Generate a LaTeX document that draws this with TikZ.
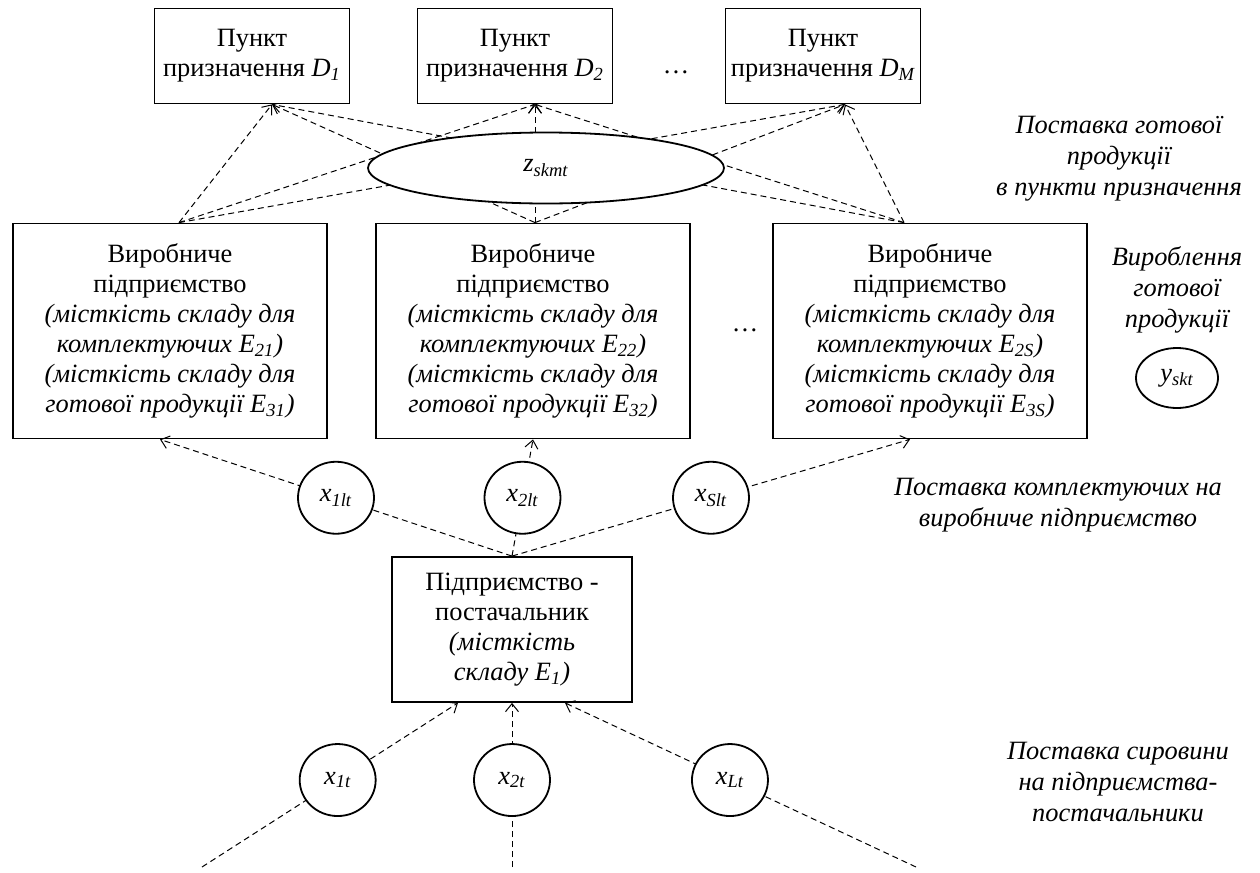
\documentclass[tikz,border=0pt]{standalone}
\usepackage{fontspec}
\setmainfont{Liberation Serif}
\usetikzlibrary{shapes.geometric,backgrounds,arrows.meta}
\newcommand{\ix}[1]{\textsubscript{\itshape #1}}

\begin{document}
\begin{tikzpicture}[x=0.5pt, y=-0.5pt, font=\fontsize{13.2}{15}\selectfont,
  box/.style={draw, solid, line width=0.9pt, fill=white, align=center, inner sep=0pt},
  oval/.style={draw, solid, ellipse, line width=0.9pt, fill=white, inner sep=0pt},
  var/.style={oval, minimum width=38pt, minimum height=36pt},
  note/.style={align=center, font=\fontsize{13.2}{15.5}\selectfont\itshape},
  flow/.style={line width=0.5pt, dash pattern=on 3pt off 2pt, -{Straight Barb[length=4pt,width=6.5pt]}}]
  \useasboundingbox (0,0) rectangle (1260,873);
  \node[box, minimum width=97.5pt, minimum height=47.5pt] (d1) at (252,56) {Пункт\\призначення \textit{D}\ix{1}};
  \node[box, minimum width=97.5pt, minimum height=47.5pt] (d2) at (515,56) {Пункт\\призначення \textit{D}\ix{2}};
  \node[box, minimum width=97.5pt, minimum height=47.5pt] (dm) at (823,56) {Пункт\\призначення \textit{D}\ix{M}};
  \node (dtop) at (676,72) {\dots};
  \node[oval, minimum width=178pt, minimum height=35.5pt] (z) at (546,168) {\textit{z}\ix{skmt}};
  \node[note] (lbd) at (1119,159) {Поставка готової\\продукції\\в пункти призначення};
  \node[box, minimum width=157pt, minimum height=107.5pt] (b1) at (170,331) {Виробниче\\підприємство\\\textit{(місткість складу для}\\\textit{комплектуючих E\ix{21})}\\\textit{(місткість складу для}\\\textit{готової продукції E\ix{31})}};
  \node[box, minimum width=157pt, minimum height=107.5pt] (b2) at (533,331) {Виробниче\\підприємство\\\textit{(місткість складу для}\\\textit{комплектуючих E\ix{22})}\\\textit{(місткість складу для}\\\textit{готової продукції E\ix{32})}};
  \node[box, minimum width=157pt, minimum height=107.5pt] (b3) at (930,331) {Виробниче\\підприємство\\\textit{(місткість складу для}\\\textit{комплектуючих E\ix{2S})}\\\textit{(місткість складу для}\\\textit{готової продукції E\ix{3S})}};
  \node (dmid) at (745,330) {\dots};
  \node[note] (lbp) at (1177,290) {Вироблення\\готової\\продукції};
  \node[oval, minimum width=41pt, minimum height=30pt] (y) at (1177,378) {\textit{y}\ix{skt}};
  \node[note] (lbk) at (1058,505) {Поставка комплектуючих на\\виробниче підприємство};
  \node[box, minimum width=120pt, minimum height=72.5pt] (sup) at (512,629.5) {Підприємство -\\постачальник\\\textit{(місткість}\\\textit{складу E\ix{1})}};
  \node[note] (lbs) at (1118,782) {Поставка сировини\\на підприємства-\\постачальники};
  \coordinate (r1) at (202,867);
  \coordinate (r2) at (512,867);
  \coordinate (r3) at (916,867);
  \begin{scope}[on background layer]
    \foreach \b/\bs in {b1/4.5pt, b2/1pt, b3/-13pt}
      \foreach \d/\ds in {d1/10pt, d2/10pt, dm/11pt}
        \draw[flow] ([xshift=\bs]\b.north) -- ([xshift=\ds]\d.south);
  \end{scope}
  \draw[flow] (sup.north) -- node[var, pos=0.5] (x1lt) {\textit{x}\ix{1lt}} ([xshift=-5pt]b1.south);
  \draw[flow] (sup.north) -- node[var, pos=0.5] (x2lt) {\textit{x}\ix{2lt}} (b2.south);
  \draw[flow] (sup.north) -- node[var, pos=0.5] (xslt) {\textit{x}\ix{Slt}} ([xshift=-10pt]b3.south);
  \draw[flow] (r1) -- node[var, pos=0.53] (x1t) {\textit{x}\ix{1t}} ([xshift=-27pt]sup.south);
  \draw[flow] (r2) -- node[var, pos=0.53] (x2t) {\textit{x}\ix{2t}} (sup.south);
  \draw[flow] (r3) -- node[var, pos=0.53] (xlt) {\textit{x}\ix{Lt}} ([xshift=26.5pt]sup.south);
\end{tikzpicture}
\end{document}
